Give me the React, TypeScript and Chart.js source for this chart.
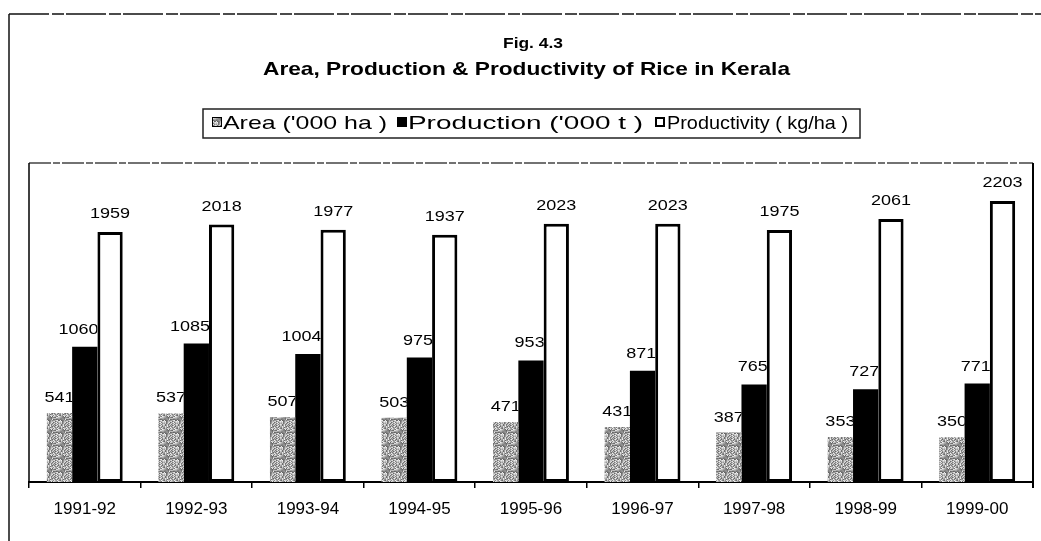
import React, { useEffect, useRef } from "react";
import { Chart, registerables } from "chart.js";

Chart.register(...registerables);

const years = ["1991-92", "1992-93", "1993-94", "1994-95", "1995-96", "1996-97", "1997-98", "1998-99", "1999-00"];
const areaValues = [541, 537, 507, 503, 471, 431, 387, 353, 350];
const productionValues = [1060, 1085, 1004, 975, 953, 871, 765, 727, 771];
const productivityValues = [1959, 2018, 1977, 1937, 2023, 2023, 1975, 2061, 2203];
const seriesNames = ["Area ('000 ha )", "Production ('000 t )", "Productivity ( kg/ha )"];
const figLabel = "Fig. 4.3";
const titleText = "Area, Production & Productivity of Rice in Kerala";
const yMax = 2500;

const FONT = "'Liberation Sans', Arial, sans-serif";

function makePattern(): CanvasPattern | string {
  const c = document.createElement("canvas");
  c.width = 13;
  c.height = 13;
  const g = c.getContext("2d");
  if (!g) return "#a8a8a8";
  for (let y = 0; y < 13; y++) {
    for (let x = 0; x < 13; x++) {
      const h = ((x * 37 + y * 71 + x * y * 13 + ((x ^ y) * 5)) % 23) / 22;
      const v = Math.round(100 + h * 140);
      g.fillStyle = `rgb(${v},${v},${v})`;
      g.fillRect(x, y, 1, 1);
    }
  }
  return g.createPattern(c, "repeat") || "#a8a8a8";
}

function drawFit(ctx: CanvasRenderingContext2D, text: string, x: number, y: number, width: number, font: string, align: "left" | "center") {
  ctx.save();
  ctx.font = font;
  const w = ctx.measureText(text).width;
  const sx = width / w;
  ctx.translate(align === "center" ? x - width / 2 : x, y);
  ctx.scale(sx, 1);
  ctx.textAlign = "left";
  ctx.textBaseline = "alphabetic";
  ctx.fillStyle = "#000";
  ctx.fillText(text, 0, 0);
  ctx.restore();
}

function drawScaled(ctx: CanvasRenderingContext2D, text: string, x: number, y: number, font: string, sx: number, align: CanvasTextAlign) {
  ctx.save();
  ctx.font = font;
  ctx.translate(x, y);
  ctx.scale(sx, 1);
  ctx.textAlign = align;
  ctx.textBaseline = "alphabetic";
  ctx.fillStyle = "#000";
  ctx.fillText(text, 0, 0);
  ctx.restore();
}

export default function App() {
  const ref = useRef<HTMLCanvasElement | null>(null);

  useEffect(() => {
    if (!ref.current) return;
    const pattern = makePattern();

    const decor = {
      id: "decor",
      beforeDraw(chart: any) {
        const ctx: CanvasRenderingContext2D = chart.ctx;
        ctx.save();
        ctx.fillStyle = "#fff";
        ctx.fillRect(0, 0, chart.width, chart.height);
        // outer frame
        ctx.strokeStyle = "#111";
        ctx.lineWidth = 1.5;
        ctx.setLineDash([40, 3, 12, 2]);
        ctx.beginPath();
        ctx.moveTo(9, 14);
        ctx.lineTo(chart.width, 14);
        ctx.stroke();
        ctx.setLineDash([]);
        ctx.beginPath();
        ctx.moveTo(9, 14);
        ctx.lineTo(9, chart.height);
        ctx.stroke();
        ctx.restore();

        // titles
        drawFit(ctx, figLabel, 533, 48, 60, `bold 14px ${FONT}`, "center");
        drawFit(ctx, titleText, 526.5, 75, 527, `bold 19px ${FONT}`, "center");

        // legend box
        ctx.save();
        ctx.strokeStyle = "#222";
        ctx.lineWidth = 1.5;
        ctx.strokeRect(203, 109, 657, 29);
        // swatches
        ctx.fillStyle = pattern as any;
        ctx.fillRect(212, 117, 10, 10);
        ctx.strokeStyle = "#000";
        ctx.lineWidth = 1;
        ctx.strokeRect(212.5, 117.5, 9, 9);
        ctx.fillStyle = "#000";
        ctx.fillRect(397, 117, 10, 10);
        ctx.fillStyle = "#fff";
        ctx.fillRect(655, 117, 10, 10);
        ctx.lineWidth = 2;
        ctx.strokeRect(656, 118, 8, 8);
        ctx.restore();
        drawFit(ctx, seriesNames[0], 223, 129, 164, `19px ${FONT}`, "left");
        drawFit(ctx, seriesNames[1], 408, 129, 235, `19px ${FONT}`, "left");
        drawFit(ctx, seriesNames[2], 667, 129, 181, `19px ${FONT}`, "left");
      },
      afterDatasetsDraw(chart: any) {
        const ctx: CanvasRenderingContext2D = chart.ctx;
        const area = chart.chartArea;
        // plot frame
        ctx.save();
        ctx.strokeStyle = "#444";
        ctx.lineWidth = 1.5;
        ctx.setLineDash([22, 2, 7, 2]);
        ctx.beginPath();
        ctx.moveTo(area.left, area.top);
        ctx.lineTo(area.right, area.top);
        ctx.stroke();
        ctx.setLineDash([]);
        ctx.strokeStyle = "#000";
        ctx.lineWidth = 1.5;
        ctx.beginPath();
        ctx.moveTo(area.left, area.top);
        ctx.lineTo(area.left, area.bottom);
        ctx.stroke();
        ctx.lineWidth = 2;
        ctx.beginPath();
        ctx.moveTo(area.right, area.top);
        ctx.lineTo(area.right, area.bottom + 6);
        ctx.stroke();
        ctx.restore();

        // data labels
        chart.data.datasets.forEach((ds: any, di: number) => {
          const meta = chart.getDatasetMeta(di);
          meta.data.forEach((bar: any, i: number) => {
            const p = bar.getProps(["x", "y", "width"], true);
            const right = p.x + p.width / 2;
            const text = String(ds.data[i]);
            ctx.save();
            if (di < 2) {
              ctx.beginPath();
              ctx.rect(0, 0, right, chart.height);
              ctx.clip();
            }
            const font = `15px ${FONT}`;
            if (di === 0) drawScaled(ctx, text, p.x, p.y - 11, font, 1.2, "center");
            else if (di === 1) drawScaled(ctx, text, right + 1, p.y - 13, font, 1.2, "right");
            else drawScaled(ctx, text, p.x, p.y - 14, font, 1.2, "center");
            ctx.restore();
          });
        });
      },
    };

    const chart = new Chart(ref.current, {
      type: "bar",
      data: {
        labels: years,
        datasets: [
          { label: seriesNames[0], data: areaValues, backgroundColor: pattern as any, borderWidth: 0 },
          { label: seriesNames[1], data: productionValues, backgroundColor: "#000", borderWidth: 0 },
          {
            label: seriesNames[2],
            data: productivityValues,
            backgroundColor: "#fff",
            borderColor: "#000",
            borderWidth: 3,
            borderSkipped: false,
          },
        ],
      },
      options: {
        animation: false,
        responsive: true,
        maintainAspectRatio: false,
        layout: { padding: { left: 29, right: 8, top: 163, bottom: 0 } },
        datasets: { bar: { categoryPercentage: 0.68, barPercentage: 1 } },
        scales: {
          x: {
            grid: { display: true, drawOnChartArea: false, drawTicks: true, tickLength: 6, color: "#000", lineWidth: 1.5, offset: true },
            border: { display: true, color: "#000", width: 2 },
            ticks: { color: "#000", font: { family: FONT, size: 17 }, padding: 11, maxRotation: 0, autoSkip: false },
            afterFit: (s: any) => {
              s.height = 59;
            },
          },
          y: { display: false, min: 0, max: yMax },
        },
        plugins: { legend: { display: false }, title: { display: false }, tooltip: { enabled: false } },
      },
      plugins: [decor as any],
    });
    return () => chart.destroy();
  }, []);

  return (
    <div style={{ position: "fixed", left: 0, top: 0, width: 1041, height: 541, background: "#fff" }}>
      <canvas ref={ref} />
    </div>
  );
}
